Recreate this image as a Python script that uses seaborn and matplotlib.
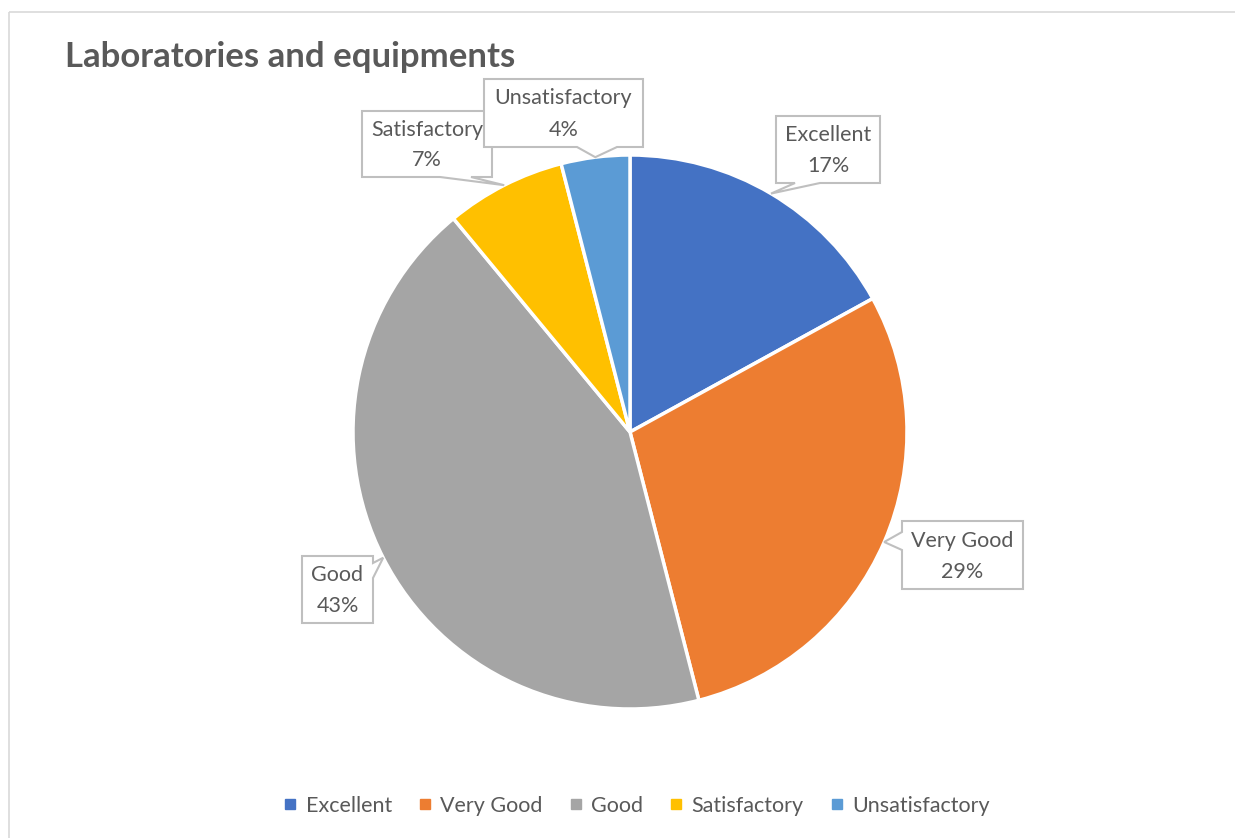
import numpy as np
import pandas as pd
import seaborn as sns
import matplotlib
matplotlib.use("Agg")
import matplotlib.pyplot as plt
from matplotlib.patches import Polygon, Rectangle
from matplotlib.lines import Line2D

# ---- data ----
categories = ["Excellent", "Very Good", "Good", "Satisfactory", "Unsatisfactory"]
percent = [17, 29, 43, 7, 4]
colors = ["#4472C4", "#ED7D31", "#A5A5A5", "#FFC000", "#5B9BD5"]
title = "Laboratories and equipments"

sns.set_theme(style="white")
plt.rcParams["font.family"] = ["Lato", "DejaVu Sans"]

TXT = "#595959"
W, H = 1235, 838
fig = plt.figure(figsize=(W / 100, H / 100), dpi=100)
ax = fig.add_axes([0, 0, 1, 1])

cx, cy, R = 630, 432, 277
df = pd.DataFrame({"category": categories, "percent": percent, "color": colors})
wedges, _ = ax.pie(df["percent"], colors=df["color"], startangle=-90, counterclock=True,
                   center=(cx, cy), radius=R, frame=True,
                   wedgeprops=dict(edgecolor="white", linewidth=2.5))
ax.set_xlim(0, W)
ax.set_ylim(H, 0)
ax.axis("off")

# chart border
ax.add_patch(Rectangle((9, 12), W, H, fill=False, edgecolor="#D9D9D9", linewidth=1.2, zorder=0))

# title
ax.text(65, 57, title, ha="left", va="center", fontsize=25, fontweight="bold", color=TXT)

# callout layout (box, side with pointer, pointer base)
layout = {
    "Excellent": dict(box=(776, 116, 880, 183), side="bottom", base=(795, 820)),
    "Very Good": dict(box=(902, 521, 1023, 589), side="left", base=(532, 550)),
    "Good": dict(box=(302, 556, 373, 623), side="right", base=(563, 578)),
    "Satisfactory": dict(box=(362, 111, 492, 177), side="bottom", base=(440, 471)),
    "Unsatisfactory": dict(box=(484, 79, 643, 147), side="bottom", base=(577, 617)),
}

cum = np.cumsum(percent)
total = sum(percent)
for i, (cat, p) in enumerate(zip(categories, percent)):
    mid = np.deg2rad(360 * (cum[i] - p / 2) / total)
    tx, ty = cx + R * np.sin(mid), cy - R * np.cos(mid)
    L = layout[cat]
    x0, y0, x1, y1 = L["box"]
    b0, b1 = L["base"]
    if L["side"] == "bottom":
        verts = [(x0, y0), (x1, y0), (x1, y1), (b1, y1), (tx, ty), (b0, y1), (x0, y1)]
    elif L["side"] == "left":
        verts = [(x0, y0), (x1, y0), (x1, y1), (x0, y1), (x0, b1), (tx, ty), (x0, b0)]
    else:
        verts = [(x0, y0), (x1, y0), (x1, b0), (tx, ty), (x1, b1), (x1, y1), (x0, y1)]
    ax.add_patch(Polygon(verts, closed=True, facecolor="white", edgecolor="#BFBFBF",
                         linewidth=1.5, zorder=5 + i))
    xc, yc = (x0 + x1) / 2, (y0 + y1) / 2
    ax.text(xc, yc - 14.5, cat, ha="center", va="center", fontsize=15.5, color=TXT, zorder=6 + i)
    ax.text(xc, yc + 16.5, f"{p}%", ha="center", va="center", fontsize=15.5, color=TXT, zorder=6 + i)

handles = [Line2D([], [], linestyle="none", marker="s", markersize=7, color=c) for c in colors]
fig.legend(handles, categories, loc="center", bbox_to_anchor=(637 / W, 1 - 806 / H), ncol=5,
           frameon=False, fontsize=15.5, labelcolor=TXT, handlelength=0.55, handletextpad=0.45,
           columnspacing=1.25)

fig.savefig("out.png", dpi=100)
